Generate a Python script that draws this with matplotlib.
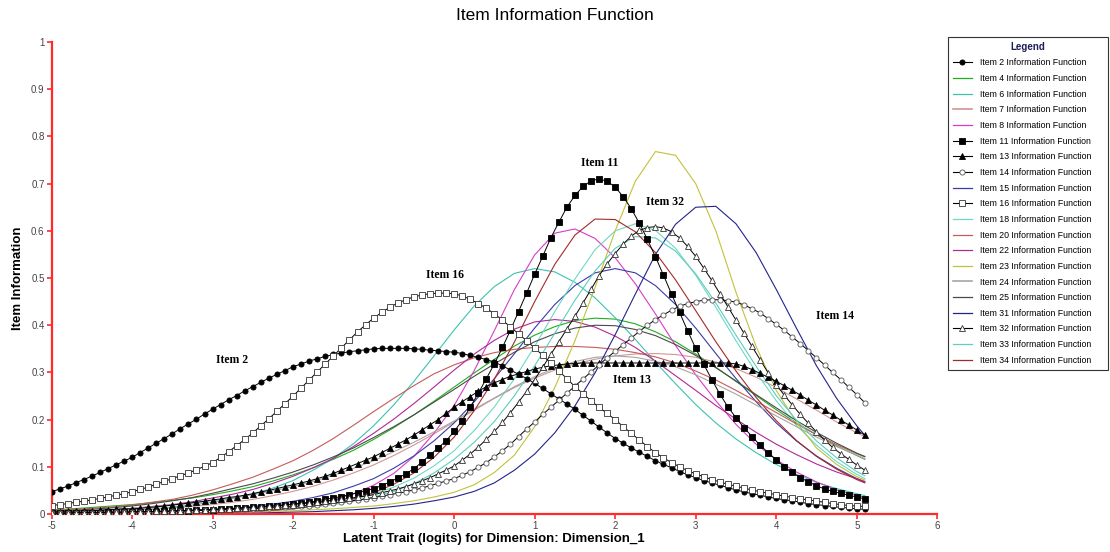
#!/usr/bin/env python3
"""
Item Information Function chart (IRT) -- recreated from a screenshot
"""

import numpy as np
import matplotlib
matplotlib.use('Agg')
import matplotlib.pyplot as plt
from matplotlib.lines import Line2D

plt.rcParams['font.family'] = ['Liberation Sans', 'DejaVu Sans']
plt.rcParams['axes.unicode_minus'] = False

# theta grids: markers every 0.1 logit, plain curves every 0.25 logit
THETA_FINE = np.round(np.arange(-5.0, 5.11, 0.1), 1)
THETA_LINE = np.append(np.arange(-5.0, 5.01, 0.25), 5.1)

# ---- curves drawn with markers (0.1 step, -5.0 .. 5.1) ----
ITEM_02 = [.047, .053, .059, .066, .073, .080, .088, .096, .104, .112,
           .120, .130, .140, .150, .160, .170, .181, .191, .201, .212,
           .222, .232, .242, .251, .261, .270, .279, .288, .296, .304,
           .312, .318, .324, .329, .334, .338, .341, .344, .346, .348,
           .350, .351, .351, .351, .351, .350, .349, .347, .346, .344,
           .343, .340, .336, .332, .327, .322, .314, .305, .296, .287,
           .277, .266, .255, .244, .233, .222, .209, .197, .184, .172,
           .160, .150, .140, .131, .122, .113, .105, .098, .090, .083,
           .077, .071, .066, .061, .056, .051, .047, .043, .040, .036,
           .033, .030, .028, .025, .022, .020, .018, .016, .014, .013,
           .011, .010]
ITEM_11 = [.002, .002, .002, .003, .003, .003, .003, .004, .004, .004,
           .004, .005, .005, .005, .006, .006, .007, .007, .008, .008,
           .009, .010, .011, .012, .013, .014, .015, .017, .018, .020,
           .021, .023, .025, .028, .031, .034, .037, .041, .045, .049,
           .054, .060, .068, .076, .085, .096, .110, .125, .140, .155,
           .175, .198, .226, .256, .287, .318, .353, .390, .429, .468,
           .508, .546, .585, .618, .650, .675, .694, .706, .710, .705,
           .693, .672, .647, .616, .582, .545, .506, .466, .427, .388,
           .351, .317, .285, .254, .227, .204, .183, .164, .146, .130,
           .115, .100, .088, .077, .068, .060, .053, .048, .044, .040,
           .036, .032]
ITEM_13 = [.005, .005, .006, .006, .007, .007, .008, .009, .010, .011,
           .011, .012, .014, .015, .017, .019, .021, .023, .025, .027,
           .030, .032, .035, .037, .040, .043, .047, .050, .054, .058,
           .062, .066, .070, .075, .080, .086, .093, .100, .107, .114,
           .121, .130, .139, .148, .157, .167, .178, .189, .200, .213,
           .226, .238, .249, .260, .270, .278, .285, .292, .297, .302,
           .307, .311, .314, .316, .318, .319, .320, .320, .320, .320,
           .320, .320, .320, .320, .320, .320, .320, .320, .320, .320,
           .320, .320, .320, .320, .320, .318, .313, .306, .298, .290,
           .281, .272, .262, .252, .241, .231, .220, .210, .199, .189,
           .178, .167]
ITEM_14 = [.002, .002, .002, .002, .003, .003, .003, .003, .004, .004,
           .004, .004, .005, .005, .005, .006, .006, .007, .007, .008,
           .008, .009, .009, .010, .010, .011, .012, .013, .014, .015,
           .016, .017, .018, .020, .021, .023, .025, .027, .030, .032,
           .035, .038, .041, .044, .047, .051, .055, .060, .065, .070,
           .075, .082, .090, .099, .109, .121, .134, .148, .164, .180,
           .195, .211, .226, .241, .256, .271, .286, .301, .316, .331,
           .345, .359, .373, .387, .400, .412, .422, .432, .440, .446,
           .450, .453, .454, .454, .452, .449, .443, .435, .426, .414,
           .402, .389, .375, .361, .346, .331, .316, .300, .285, .269,
           .253, .236]
ITEM_16 = [.018, .020, .022, .025, .027, .030, .033, .036, .040, .043,
           .047, .052, .057, .063, .069, .075, .081, .087, .094, .101,
           .109, .120, .132, .145, .158, .172, .187, .202, .218, .234,
           .250, .267, .284, .301, .318, .335, .352, .369, .386, .401,
           .415, .427, .438, .447, .454, .460, .464, .467, .468, .468,
           .467, .462, .455, .446, .436, .424, .411, .396, .382, .367,
           .352, .336, .320, .303, .287, .270, .255, .240, .226, .213,
           .200, .185, .171, .157, .143, .130, .119, .109, .100, .092,
           .085, .079, .073, .068, .063, .059, .055, .051, .047, .044,
           .041, .038, .035, .032, .030, .027, .025, .022, .020, .018,
           .017, .016]
ITEM_32 = [.002, .002, .002, .003, .003, .003, .003, .004, .004, .004,
           .005, .005, .005, .006, .006, .007, .007, .008, .009, .009,
           .010, .011, .011, .012, .013, .014, .015, .016, .017, .019,
           .020, .022, .023, .025, .027, .029, .031, .033, .036, .038,
           .041, .045, .049, .053, .058, .064, .070, .077, .085, .093,
           .102, .114, .127, .142, .158, .175, .194, .215, .237, .260,
           .285, .311, .338, .365, .392, .419, .447, .476, .505, .530,
           .552, .572, .589, .601, .607, .609, .606, .598, .585, .567,
           .546, .521, .495, .467, .439, .411, .383, .355, .327, .299,
           .274, .252, .231, .211, .192, .174, .157, .141, .128, .116,
           .104, .093]

# ---- plain curves (0.25 step, -5.0 .. 5.0, then 5.1) ----
ITEM_04 = [.009, .011, .014, .017, .020, .024, .029, .034, .041, .049,
           .058, .070, .083, .098, .116, .135, .158, .183, .210, .239,
           .269, .299, .328, .356, .379, .397, .410, .415, .413, .403,
           .386, .365, .339, .311, .281, .251, .221, .193, .168, .144,
           .124, .116]
ITEM_06 = [.003, .004, .005, .006, .009, .011, .015, .019, .025, .033,
           .042, .055, .071, .093, .118, .149, .187, .231, .281, .335,
           .390, .441, .482, .510, .520, .513, .491, .458, .416, .370,
           .322, .276, .232, .193, .159, .130, .105, .084, .067, .054,
           .043, .039]
ITEM_07 = [.003, .004, .005, .006, .008, .010, .013, .016, .020, .025,
           .031, .039, .048, .059, .072, .087, .104, .124, .146, .170,
           .195, .220, .245, .268, .288, .305, .318, .328, .335, .339,
           .340, .338, .332, .322, .308, .290, .268, .244, .220, .195,
           .172, .164]
ITEM_08 = [.001, .001, .001, .001, .001, .001, .002, .002, .003, .005,
           .007, .010, .014, .021, .030, .043, .061, .086, .122, .171,
           .230, .304, .389, .476, .549, .595, .604, .584, .543, .488,
           .424, .357, .295, .240, .190, .148, .115, .089, .068, .051,
           .040, .035]
ITEM_15 = [.001, .001, .002, .002, .003, .004, .005, .007, .009, .012,
           .016, .021, .027, .035, .045, .059, .075, .097, .123, .155,
           .193, .238, .287, .340, .394, .444, .484, .511, .520, .511,
           .484, .444, .394, .340, .287, .238, .193, .155, .123, .097,
           .075, .068]
ITEM_18 = [.000, .000, .001, .001, .001, .001, .002, .003, .004, .005,
           .007, .009, .013, .017, .023, .031, .042, .057, .076, .102,
           .134, .177, .227, .287, .355, .429, .498, .560, .600, .615,
           .601, .563, .506, .438, .367, .300, .240, .188, .146, .111,
           .084, .075]
ITEM_20 = [.008, .010, .012, .015, .019, .025, .031, .040, .051, .064,
           .078, .095, .113, .135, .160, .188, .217, .245, .272, .297,
           .316, .331, .342, .349, .353, .355, .355, .353, .349, .342,
           .333, .320, .303, .284, .262, .239, .215, .191, .168, .147,
           .128, .121]
ITEM_22 = [.004, .005, .007, .009, .012, .016, .020, .026, .034, .042,
           .052, .065, .080, .098, .118, .143, .171, .201, .234, .269,
           .305, .339, .368, .392, .407, .412, .408, .396, .377, .353,
           .324, .293, .262, .230, .201, .173, .148, .126, .106, .089,
           .075, .069]
ITEM_23 = [.001, .001, .001, .001, .002, .002, .002, .003, .003, .004,
           .005, .006, .007, .009, .011, .014, .017, .022, .028, .036,
           .046, .062, .088, .125, .185, .268, .367, .480, .600, .705,
           .768, .760, .700, .600, .470, .355, .262, .195, .140, .105,
           .079, .072]
ITEM_24 = [.004, .005, .007, .009, .012, .015, .019, .023, .028, .034,
           .041, .049, .058, .069, .082, .097, .113, .132, .152, .174,
           .197, .222, .246, .270, .291, .309, .323, .332, .335, .332,
           .324, .312, .295, .275, .254, .231, .208, .185, .163, .143,
           .125, .117]
ITEM_25 = [.006, .008, .010, .013, .017, .022, .028, .035, .044, .054,
           .064, .076, .089, .104, .121, .140, .162, .185, .210, .237,
           .264, .292, .318, .343, .365, .382, .394, .400, .399, .391,
           .378, .359, .336, .310, .282, .253, .225, .198, .173, .150,
           .129, .122]
ITEM_31 = [.000, .000, .000, .000, .000, .000, .001, .001, .001, .002,
           .002, .003, .004, .005, .007, .009, .012, .016, .021, .028,
           .036, .048, .066, .093, .127, .172, .229, .299, .380, .466,
           .550, .614, .650, .652, .615, .554, .476, .394, .314, .245,
           .187, .167]
ITEM_33 = [.000, .000, .000, .001, .001, .001, .002, .002, .003, .004,
           .006, .008, .011, .015, .020, .027, .036, .048, .064, .087,
           .116, .152, .196, .251, .314, .383, .453, .515, .563, .588,
           .585, .557, .509, .447, .379, .313, .251, .199, .155, .119,
           .090, .081]
ITEM_34 = [.000, .000, .000, .001, .001, .001, .001, .002, .003, .004,
           .006, .008, .011, .016, .023, .032, .045, .063, .087, .120,
           .163, .219, .286, .365, .450, .529, .591, .625, .624, .598,
           .554, .496, .431, .365, .303, .247, .198, .156, .122, .095,
           .073, .066]

# legend order: (item, values, colour, marker, marker face)
SERIES = [
    (2, ITEM_02, 'black', 'o', 'black'),
    (4, ITEM_04, '#1fae1f', None, None),
    (6, ITEM_06, '#3cc2ae', None, None),
    (7, ITEM_07, '#d49494', None, None),
    (8, ITEM_08, '#d83cc8', None, None),
    (11, ITEM_11, 'black', 's', 'black'),
    (13, ITEM_13, 'black', '^', 'black'),
    (14, ITEM_14, '#555555', 'o', 'white'),
    (15, ITEM_15, '#3a3aa8', None, None),
    (16, ITEM_16, '#333333', 's', 'white'),
    (18, ITEM_18, '#6fd8c6', None, None),
    (20, ITEM_20, '#c85a5a', None, None),
    (22, ITEM_22, '#b0289a', None, None),
    (23, ITEM_23, '#c2c23a', None, None),
    (24, ITEM_24, '#a6a6a6', None, None),
    (25, ITEM_25, '#4a4a4a', None, None),
    (31, ITEM_31, '#23238e', None, None),
    (32, ITEM_32, '#333333', '^', 'white'),
    (33, ITEM_33, '#5ccfbe', None, None),
    (34, ITEM_34, '#a42a2a', None, None),
]

# callouts on the chart
CALLOUTS = [('Item 2', -2.76, 0.326), ('Item 16', -0.11, 0.506),
            ('Item 11', 1.81, 0.744), ('Item 32', 2.62, 0.661),
            ('Item 14', 4.73, 0.420), ('Item 13', 2.21, 0.284)]

X_TICKS = [-5, -4, -3, -2, -1, 0, 1, 2, 3, 4, 5, 6]
Y_TICKS = [0, 0.1, 0.2, 0.3, 0.4, 0.5, 0.6, 0.7, 0.8, 0.9, 1]
Y_TICK_LABELS = ['0', '0.1', '0.2', '0.3', '0.4', '0.5', '0.6', '0.7', '0.8', '0.9', '1']

RED = '#ff2a2a'

fig = plt.figure(figsize=(11.1, 5.52), dpi=100)
ax = fig.add_axes([0.0464, 0.0688, 0.798, 0.855])

handles = []
for item, vals, colour, marker, face in SERIES:
    if marker is None:
        ax.plot(THETA_LINE, vals, color=colour, lw=0.8, zorder=2)
        h = Line2D([], [], color=colour, lw=1.2 if item in (7, 24) else 0.9)
    else:
        ms = 4.2 if marker == '^' else 3.7
        ax.plot(THETA_FINE, vals, color='black', lw=0.7, marker=marker,
                ms=ms, mfc=face, mec=colour, mew=0.6, zorder=3)
        h = Line2D([], [], color='black', lw=0.8, marker=marker, ms=ms,
                   mfc=face, mec=colour, mew=0.6)
    handles.append((h, f'Item {item} Information Function'))

for txt, x, y in CALLOUTS:
    ax.text(x, y, txt, ha='center', va='center', fontsize=8.5,
            fontweight='bold', family=['Liberation Serif', 'DejaVu Serif'], zorder=5)

ax.set_xlim(-5, 6)
ax.set_ylim(0, 1)
ax.set_xticks(X_TICKS)
ax.set_xticklabels([str(t) for t in X_TICKS])
ax.set_yticks(Y_TICKS)
ax.set_yticklabels(Y_TICK_LABELS)
for side in ('top', 'right'):
    ax.spines[side].set_visible(False)
for side in ('left', 'bottom'):
    ax.spines[side].set_color(RED)
    ax.spines[side].set_linewidth(1.6)
ax.tick_params(colors=RED, length=3.5, width=1.2, pad=1.5,
               labelsize=7, labelcolor='#444444')

fig.text(0.5, 0.972, 'Item Information Function', ha='center', va='center', fontsize=12.5)
fig.text(0.016, 0.496, 'Item Information', rotation=90, ha='center', va='center',
         fontsize=9.5, fontweight='bold')
fig.text(0.445, 0.024, 'Latent Trait (logits) for Dimension: Dimension_1',
         ha='center', va='center', fontsize=9.5, fontweight='bold')

leg = fig.legend([h for h, _ in handles], [l for _, l in handles],
                 loc='upper left', bbox_to_anchor=(0.854, 0.933, 0.144, 0.0),
                 mode='expand', fontsize=6.3, frameon=True, fancybox=False,
                 edgecolor='#333333', framealpha=1, borderaxespad=0,
                 handlelength=2.2, handletextpad=0.9, labelspacing=0.76,
                 borderpad=0.55, title='Legend',
                 title_fontproperties={'weight': 'bold', 'size': 7})
leg.get_title().set_color('#1c1c5a')
leg.get_frame().set_linewidth(0.8)

fig.savefig('out.png', dpi=100)
